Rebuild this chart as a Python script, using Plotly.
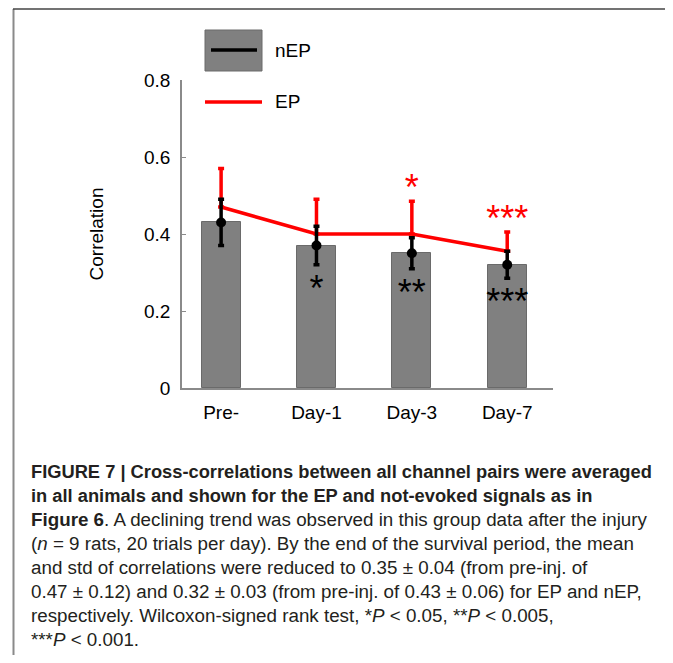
import plotly.graph_objects as go

# ---- data ----
categories = ["Pre-", "Day-1", "Day-3", "Day-7"]
nep_mean = [0.43, 0.37, 0.35, 0.32]
nep_std = [0.06, 0.05, 0.04, 0.035]
ep_mean = [0.47, 0.40, 0.40, 0.355]
ep_std_up = [0.10, 0.09, 0.085, 0.05]
nep_sig = ["", "*", "**", "***"]
ep_sig = ["", "", "*", "***"]
y_ticks = [0, 0.2, 0.4, 0.6, 0.8]
y_ticktext = ["0", "0.2", "0.4", "0.6", "0.8"]
caption_lines = [
    "<b>FIGURE 7 | Cross-correlations between all channel pairs were averaged</b>",
    "<b>in all animals and shown for the EP and not-evoked signals as in</b>",
    "<b>Figure 6</b>. A declining trend was observed in this group data after the injury",
    "(<i>n</i> = 9 rats, 20 trials per day). By the end of the survival period, the mean",
    "and std of correlations were reduced to 0.35 ± 0.04 (from pre-inj. of",
    "0.47 ± 0.12) and 0.32 ± 0.03 (from pre-inj. of 0.43 ± 0.06) for EP and nEP,",
    "respectively. Wilcoxon-signed rank test, *<i>P</i> &lt; 0.05, **<i>P</i> &lt; 0.005,",
    "***<i>P</i> &lt; 0.001.",
]
caption_bold = [True, True, False, False, False, False, False, False]

OFF = 8  # page body margin
W, H = 673 - OFF, 663 - 2 * OFF
# plot area in reference page pixels
PL, PR, PT, PB = 182, 553, 80, 388
L, R, T, B = PL - OFF, PR - OFF, PT - OFF, PB - OFF


def px(xp):
    return (xp - PL) / (PR - PL)


def py(yp):
    return (PB - yp) / (PB - PT)


FONT = "Liberation Sans, Arial, sans-serif"
CAP_FONT = "Liberation Sans, Arial, sans-serif"

fig = go.Figure()
fig.add_trace(go.Bar(
    x=categories, y=nep_mean, width=0.41,
    marker=dict(color="#808080", line=dict(color="#6a6a6a", width=1)),
    showlegend=False, hoverinfo="skip",
))
fig.add_trace(go.Scatter(
    x=categories, y=ep_mean, mode="lines",
    line=dict(color="#ff0000", width=3.5),
    error_y=dict(type="data", array=ep_std_up, arrayminus=[0] * 4,
                 color="#ff0000", thickness=3.5, width=3),
    showlegend=False,
))
fig.add_trace(go.Scatter(
    x=categories, y=nep_mean, mode="markers",
    marker=dict(color="black", size=10),
    error_y=dict(type="data", array=nep_std, color="black", thickness=3.5, width=3),
    showlegend=False,
))
# significance asterisks
fig.add_trace(go.Scatter(
    x=categories, y=[m - s - 0.07 for m, s in zip(nep_mean, nep_std)],
    mode="text", text=nep_sig, textposition="middle center",
    textfont=dict(family=FONT, size=36, color="black"), showlegend=False,
))
fig.add_trace(go.Scatter(
    x=categories, y=[m + s + 0.027 for m, s in zip(ep_mean, ep_std_up)],
    mode="text", text=ep_sig, textposition="middle center",
    textfont=dict(family=FONT, size=36, color="#ff0000"), showlegend=False,
))

shapes = []
# legend
shapes.append(dict(type="rect", xref="paper", yref="paper",
                   x0=px(205), x1=px(262), y0=py(71), y1=py(30),
                   fillcolor="#808080", line=dict(color="#6a6a6a", width=1)))
shapes.append(dict(type="line", xref="paper", yref="paper",
                   x0=px(211), x1=px(257), y0=py(50), y1=py(50),
                   line=dict(color="black", width=3.5)))
shapes.append(dict(type="line", xref="paper", yref="paper",
                   x0=px(205), x1=px(262), y0=py(102), y1=py(102),
                   line=dict(color="#ff0000", width=3.5)))
# frame
for xv in (13.5, 669.5):
    shapes.append(dict(type="line", xref="paper", yref="paper",
                       x0=px(xv), x1=px(xv), y0=py(700), y1=py(9),
                       line=dict(color="#8a8a8a", width=2)))
shapes.append(dict(type="line", xref="paper", yref="paper",
                   x0=px(13), x1=px(670), y0=py(9), y1=py(9),
                   line=dict(color="#444444", width=1.5)))

annotations = [
    dict(text="nEP", x=px(273), y=py(50), xref="paper", yref="paper",
         xanchor="left", yanchor="middle", showarrow=False,
         font=dict(family=FONT, size=19, color="black")),
    dict(text="EP", x=px(273), y=py(102), xref="paper", yref="paper",
         xanchor="left", yanchor="middle", showarrow=False,
         font=dict(family=FONT, size=19, color="black")),
]
for i, (line, bold) in enumerate(zip(caption_lines, caption_bold)):
    annotations.append(dict(
        text=line, x=px(29), y=py(471 + 24 * i), xref="paper", yref="paper",
        xanchor="left", yanchor="middle", showarrow=False, align="left",
        font=dict(family=CAP_FONT, size=18.3 if bold else 18.8, color="#231f20")))

fig.update_layout(
    width=W, height=H,
    margin=dict(l=L, r=W - R, t=T, b=H - B, pad=0),
    paper_bgcolor="white", plot_bgcolor="white",
    font=dict(family=FONT, size=19, color="black"),
    shapes=shapes, annotations=annotations,
    bargap=0,
)
fig.update_xaxes(
    type="category", range=[-0.41, 3.48],
    showline=True, linecolor="#8a8a8a", linewidth=1.5,
    showgrid=False, zeroline=False, ticks="",
    tickfont=dict(family=FONT, size=19, color="black"),
    ticklabelstandoff=6,
)
fig.update_yaxes(
    range=[0, 0.8], tickvals=y_ticks, ticktext=y_ticktext,
    showline=True, linecolor="#8a8a8a", linewidth=1.5,
    ticks="inside", ticklen=4, tickcolor="#8a8a8a",
    showgrid=False, zeroline=False,
    tickfont=dict(family=FONT, size=19, color="black"),
    ticklabelstandoff=6,
    title=dict(text="Correlation", standoff=35,
               font=dict(family=FONT, size=19, color="black")),
)

fig.write_html("out.html")
